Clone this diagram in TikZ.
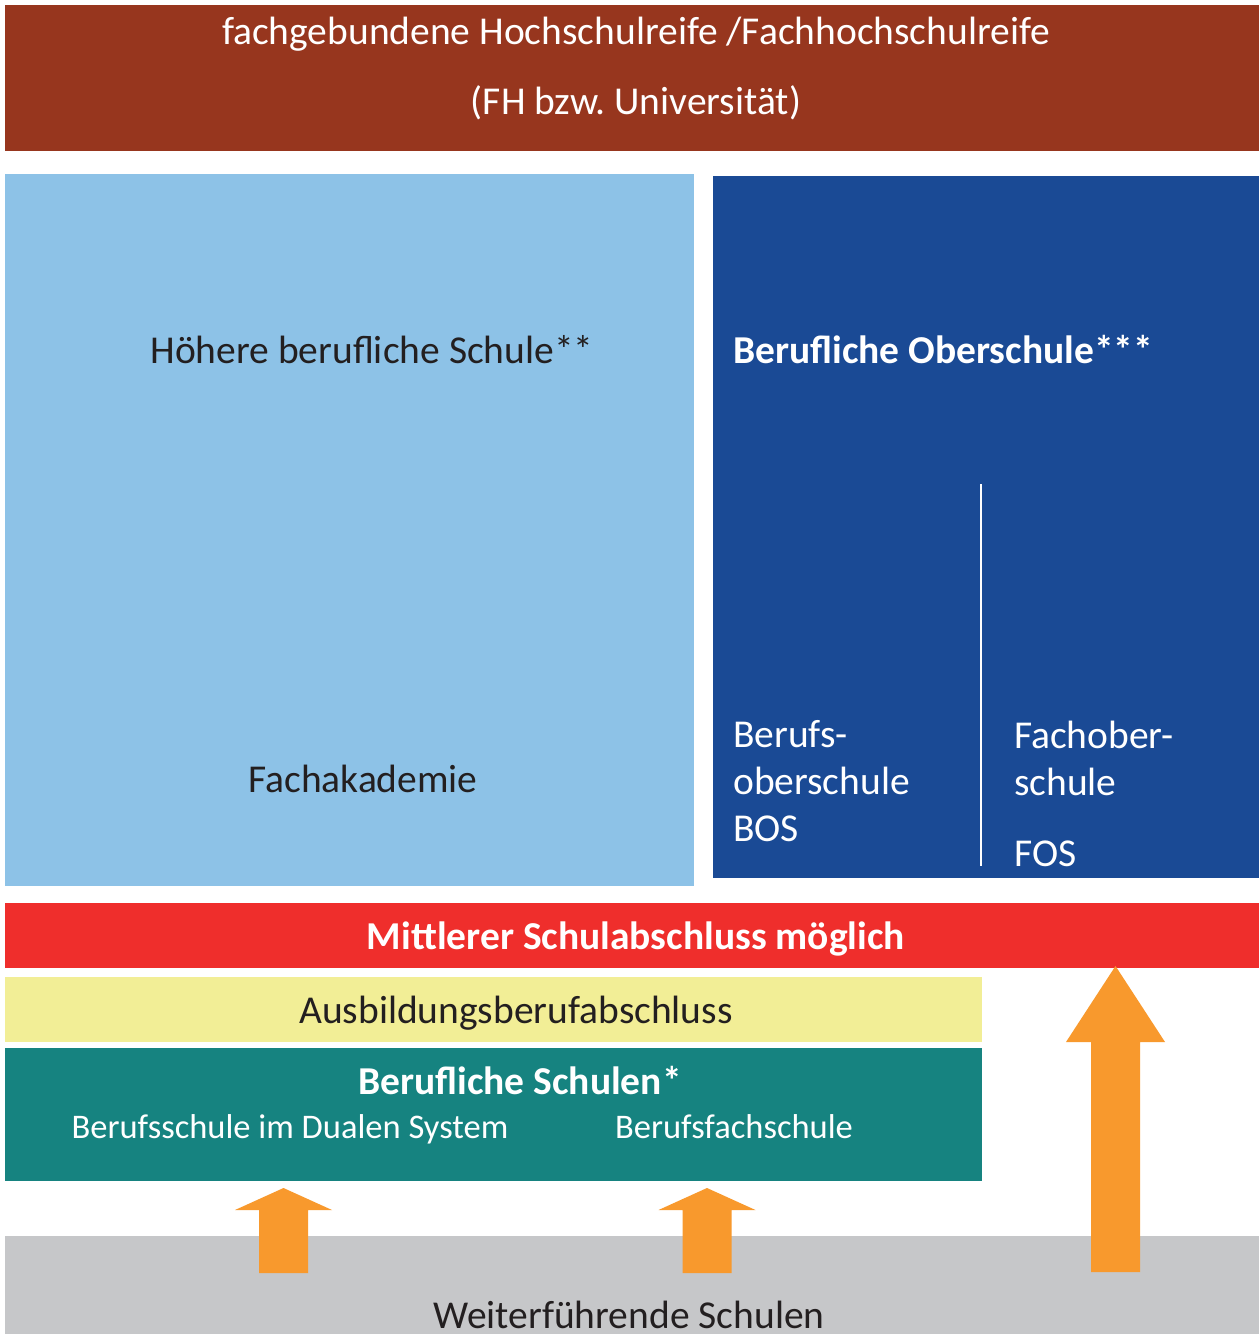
\documentclass[tikz,border=0pt]{standalone}
\usepackage{fontspec}
\setmainfont{Carlito}
\usetikzlibrary{calc}
\frenchspacing

\definecolor{reifebrown}{HTML}{97361E}
\definecolor{fakblue}{HTML}{8DC2E7}
\definecolor{bosblue}{HTML}{1A4A95}
\definecolor{msred}{HTML}{EF2E2C}
\definecolor{ausyellow}{HTML}{F2EE96}
\definecolor{bsteal}{HTML}{168380}
\definecolor{wsgray}{HTML}{C6C7C9}
\definecolor{uporange}{HTML}{F8992D}
\definecolor{darktext}{HTML}{231F20}

\begin{document}
\begin{tikzpicture}[x=1pt,y=-1pt,
            block/.style n args={2}{rectangle,inner sep=0pt,outer sep=0pt,
                anchor=north west,minimum width=#1,minimum height=#2},
            lbl/.style={font=\fontsize{39.5}{47}\selectfont,inner sep=0pt,anchor=base},
            blbl/.style={lbl,font=\fontsize{39.5}{47}\selectfont\bfseries},
            slbl/.style={lbl,font=\fontsize{34.5}{42}\selectfont}
            ]
            \useasboundingbox[fill=white] (0,0) rectangle (1259,1334);

            % bloecke
            \node[block={1254}{146},fill=reifebrown] (reife) at (5,5) {};
            \node[block={689}{712},fill=fakblue]     (fak)   at (5,174) {};
            \node[block={546}{702},fill=bosblue]     (bos)   at (713,176) {};
            \node[block={1254}{65},fill=msred]       (msa)   at (5,903) {};
            \node[block={977}{65},fill=ausyellow]    (aus)   at (5,977) {};
            \node[block={977}{133},fill=bsteal]      (bs)    at (5,1048) {};
            \node[block={1254}{100},fill=wsgray]     (ws)    at (5,1236) {};

            % trennlinie BOS / FOS
            \coordinate (teiloben) at (981,484);
            \coordinate (teilunten) at (981,866);
            \draw[white,line width=1.5pt] (teiloben) -- (teilunten);

            % pfeile
            \foreach \ax in {283.5,707}
                {\fill[uporange] (\ax-24.5,1273) -- (\ax-24.5,1210) -- (\ax-48.5,1210)
                    -- (\ax,1188) -- (\ax+48.5,1210) -- (\ax+24.5,1210)
                    -- (\ax+24.5,1273) -- cycle;}
            \fill[uporange] (1091,1272) -- (1091,1042) -- (1066,1042) -- (1115.5,966)
                -- (1165,1042) -- (1140,1042) -- (1140,1272) -- cycle;

            % texte
            \node[lbl,text=white] (reifetxt) at (636,44)
                {fachgebundene Hochschulreife /Fachhochschulreife};
            \node[lbl,text=white] (reifeuni) at (636,114) {(FH bzw. Universität)};
            \node[lbl,text=darktext] (hbs) at (372,363) {Höhere berufliche Schule**};
            \node[lbl,text=darktext] (fakad) at (363,792) {Fachakademie};
            \node[blbl,text=white,anchor=base west] (bostitel) at (733,363)
                {Berufliche Oberschule***};
            \node[lbl,text=white,anchor=base west,align=left] (bostxt) at (733,841)
                {Berufs-\\oberschule\\BOS};
            \node[lbl,text=white,anchor=base west,align=left] (fostxt) at (1014,866)
                {Fachober-\\schule\\[24pt]FOS};
            \node[blbl,text=white] (msatxt) at (636,949) {Mittlerer Schulabschluss möglich};
            \node[lbl,text=darktext] (austxt) at (516,1023) {Ausbildungsberufabschluss};
            \node[blbl,text=white] (bstitel) at (520,1094) {Berufliche Schulen*};
            \node[slbl,text=white] (duales) at (290,1138) {Berufsschule im Dualen System};
            \node[slbl,text=white] (bfs) at (734,1138) {Berufsfachschule};
            \node[lbl,text=darktext] (wstxt) at (629,1328) {Weiterführende Schulen};
        \end{tikzpicture}
\end{document}
